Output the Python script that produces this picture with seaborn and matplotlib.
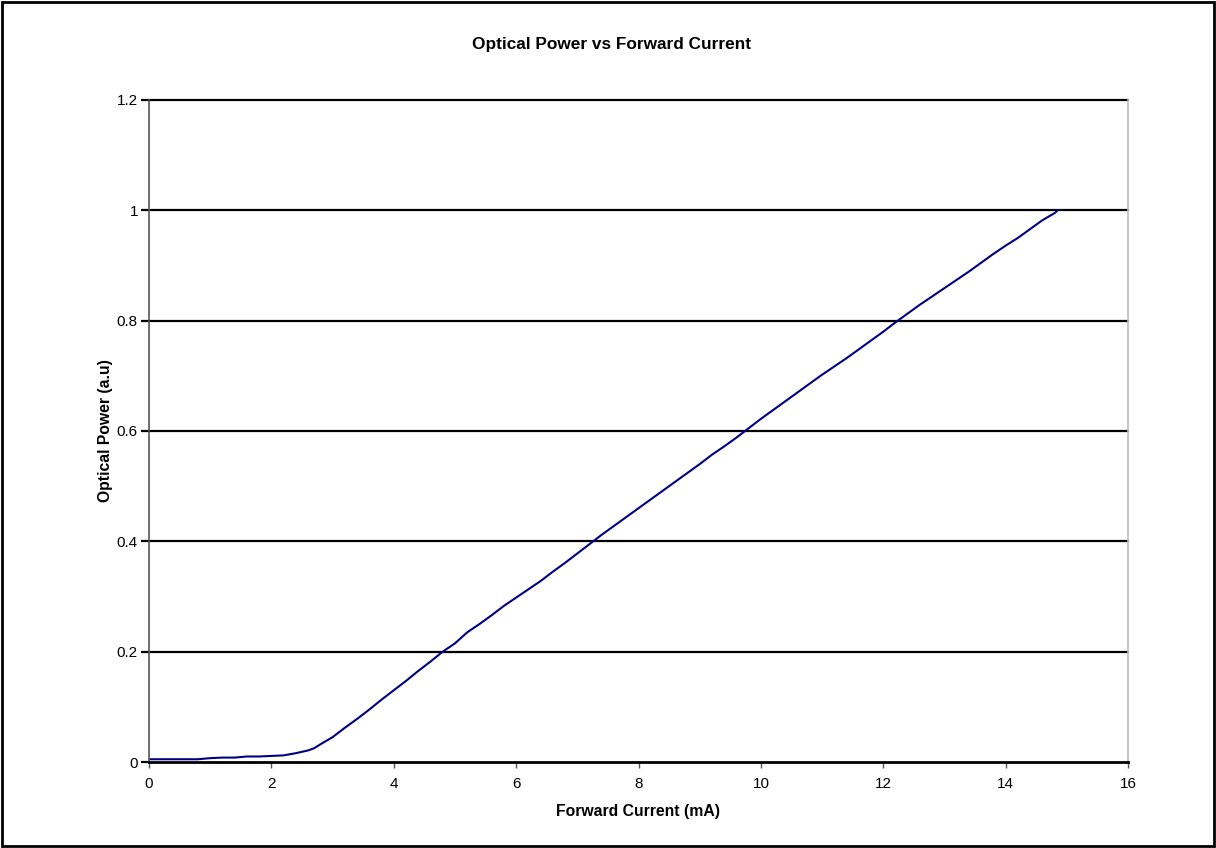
import numpy as np
import pandas as pd
import matplotlib
matplotlib.use("Agg")
import matplotlib.pyplot as plt
import seaborn as sns
from matplotlib.patches import Rectangle

# Dữ liệu đọc từ đồ thị
current_ma = [0, 0.2, 0.4, 0.6, 0.8, 1.0, 1.2, 1.4, 1.6, 1.8, 2.0, 2.2, 2.4, 2.6, 2.7,
              2.8, 3.0, 3.2, 3.4, 3.6, 3.8, 4.0, 4.2, 4.4, 4.6, 4.8, 5.0, 5.2, 5.4,
              5.6, 5.8, 6.0, 6.2, 6.4, 6.6, 6.8, 7.0, 7.2, 7.4, 7.6, 7.8, 8.0, 8.2,
              8.4, 8.6, 8.8, 9.0, 9.2, 9.4, 9.6, 9.8, 10.0, 10.2, 10.4, 10.6, 10.8,
              11.0, 11.2, 11.4, 11.6, 11.8, 12.0, 12.2, 12.4, 12.6, 12.8, 13.0, 13.2,
              13.4, 13.6, 13.8, 14.0, 14.2, 14.4, 14.6, 14.8, 14.85]
optical_power = [0.005, 0.005, 0.005, 0.005, 0.005, 0.007, 0.008, 0.008, 0.010, 0.010,
                 0.011, 0.012, 0.016, 0.021, 0.025, 0.032, 0.045, 0.062, 0.078, 0.095,
                 0.113, 0.130, 0.147, 0.165, 0.182, 0.200, 0.215, 0.235, 0.250, 0.266,
                 0.283, 0.298, 0.313, 0.328, 0.345, 0.361, 0.378, 0.395, 0.412, 0.428,
                 0.444, 0.460, 0.476, 0.492, 0.508, 0.524, 0.540, 0.557, 0.572, 0.588,
                 0.605, 0.622, 0.638, 0.654, 0.670, 0.686, 0.702, 0.717, 0.732, 0.748,
                 0.764, 0.780, 0.797, 0.813, 0.829, 0.844, 0.859, 0.874, 0.889, 0.905,
                 0.921, 0.936, 0.950, 0.966, 0.982, 0.995, 1.000]
x_ticks = [0, 2, 4, 6, 8, 10, 12, 14, 16]
y_ticks = [0, 0.2, 0.4, 0.6, 0.8, 1, 1.2]
y_tick_labels = ["0", "0.2", "0.4", "0.6", "0.8", "1", "1.2"]

df = pd.DataFrame({"current": current_ma, "power": optical_power})

sns.set_theme(style="white")
plt.rcParams['font.family'] = ['Liberation Sans', 'DejaVu Sans']

fig = plt.figure(figsize=(12.16, 8.48), dpi=100)
ax = fig.add_axes([149 / 1216, 1 - 762 / 848, (1128 - 149) / 1216, (762 - 100) / 848])

sns.lineplot(data=df, x="current", y="power", color="#000080", linewidth=1.5, ax=ax)

ax.set_xlim(0, 16)
ax.set_ylim(0, 1.2)
ax.set_xticks(x_ticks)
ax.set_xticklabels([str(t) for t in x_ticks])
ax.set_yticks(y_ticks)
ax.set_yticklabels(y_tick_labels)

# Lưới ngang màu đen
for yv in y_ticks[1:]:
    ax.axhline(yv, color="black", linewidth=1.6, zorder=1, clip_on=False)

ax.spines['top'].set_visible(False)
ax.spines['left'].set_color("#555555")
ax.spines['left'].set_linewidth(1.2)
ax.spines['right'].set_color("#bbbbbb")
ax.spines['right'].set_linewidth(1.2)
ax.spines['bottom'].set_color("black")
ax.spines['bottom'].set_linewidth(2)

ax.tick_params(axis='y', direction='out', length=6, width=1.6, color='black',
               left=True, labelsize=11, pad=2, labelcolor='black')
ax.tick_params(axis='x', direction='out', length=4, width=1, color='#555555',
               bottom=True, labelsize=11, pad=7, labelcolor='black')

ax.set_xlabel("Forward Current (mA)", fontsize=11.3, fontweight='bold', labelpad=9, color='black')
ax.set_ylabel("Optical Power (a.u)", fontsize=11.3, fontweight='bold', labelpad=3, color='black')

fig.text(612 / 1216, 1 - 45 / 848, "Optical Power vs Forward Current",
         ha='center', va='center', fontsize=12.4, fontweight='bold', color='black')

# Khung viền ngoài
fig.patches.append(Rectangle((0.0015, 0.002), 0.997, 0.996, transform=fig.transFigure,
                             fill=False, edgecolor='black', linewidth=2))

plt.savefig("out.png", dpi=100)
